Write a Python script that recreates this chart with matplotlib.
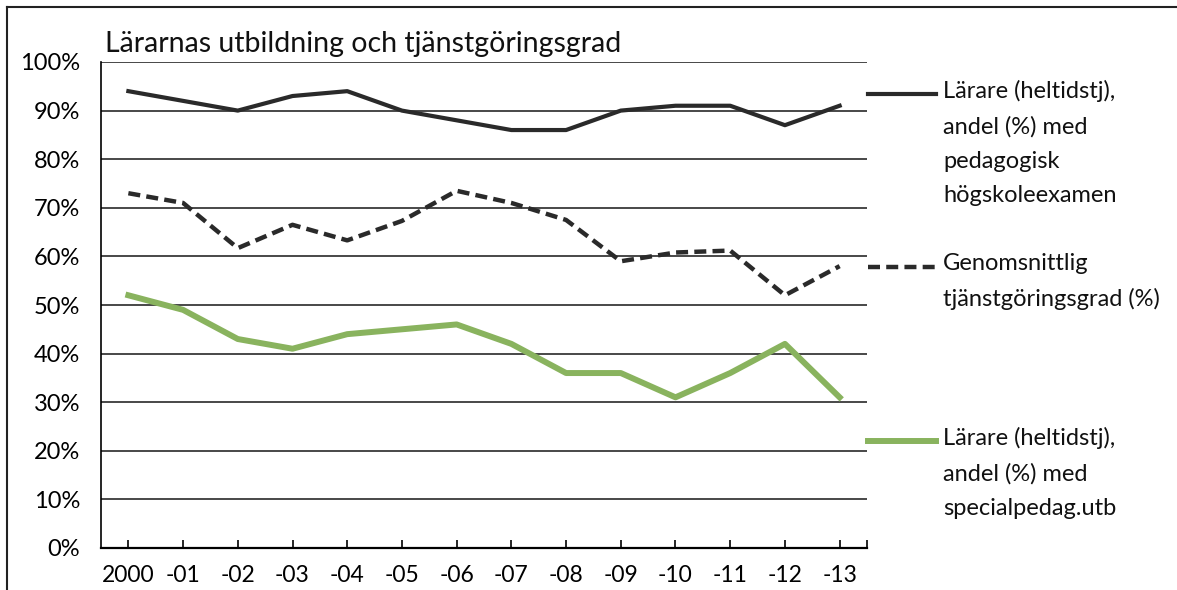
import matplotlib
matplotlib.use("Agg")
import matplotlib.pyplot as plt
from matplotlib.lines import Line2D

# data
years = ["2000", "-01", "-02", "-03", "-04", "-05", "-06", "-07", "-08", "-09", "-10", "-11", "-12", "-13"]
ped_exam = [94, 92, 90, 93, 94, 90, 88, 86, 86, 90, 91, 91, 87, 91]
tjg_grad = [73, 71, 61.7, 66.5, 63.3, 67.3, 73.5, 71, 67.5, 59, 60.8, 61.2, 52, 58]
spec_ped = [52, 49, 43, 41, 44, 45, 46, 42, 36, 36, 31, 36, 42, 31]
yticks = [0, 10, 20, 30, 40, 50, 60, 70, 80, 90, 100]

labels = ["Lärare (heltidstj),\nandel (%) med\npedagogisk\nhögskoleexamen",
          "Genomsnittlig\ntjänstgöringsgrad (%)",
          "Lärare (heltidstj),\nandel (%) med\nspecialpedag.utb"]

plt.rcParams['font.family'] = ['Lato', 'DejaVu Sans']

W, H = 1177, 590
fig = plt.figure(figsize=(W / 100, H / 100), dpi=100)
ax = fig.add_axes([101 / W, 1 - 548 / H, (867 - 101) / W, (548 - 62) / H])

x = list(range(len(years)))
dark = '#2a2a2a'
green = '#89b35e'
dash = (2.7, 1.4)

for v in yticks[1:]:
    ax.axhline(v, color='#484848', lw=1.4, zorder=1)

ax.plot(x, ped_exam, color=dark, lw=3.0, zorder=3)
ax.plot(x, tjg_grad, color=dark, lw=3.2, dashes=dash, zorder=3)
ax.plot(x, spec_ped, color=green, lw=4.3, zorder=3)

ax.set_xlim(-0.5, len(years) - 0.5)
ax.set_ylim(0, 100)
ax.set_yticks(yticks)
ax.set_yticklabels([f"{v}%" for v in yticks])
ax.set_xticks(x + [len(years) - 0.5])
ax.set_xticklabels(years + [""])
ax.tick_params(axis='x', direction='in', length=6, width=1.2, pad=12, labelsize=16.5)
ax.tick_params(axis='y', length=0, pad=15, labelsize=17)

for s in ['top', 'right']:
    ax.spines[s].set_visible(False)
ax.spines['bottom'].set_linewidth(1.6)
ax.spines['left'].set_linewidth(1.2)

fig.text(105 / W, 1 - 44 / H, "Lärarnas utbildning och tjänstgöringsgrad",
         fontsize=20.5, va='center', ha='left', color='#111111')

# legend keys and labels
key_y = [94, 267, 441]
styles = [dict(color=dark, lw=3.0),
          dict(color=dark, lw=3.2, dashes=dash),
          dict(color=green, lw=4.3)]
for ky, st, lab in zip(key_y, styles, labels):
    yy = 1 - ky / H
    fig.add_artist(Line2D([868 / W, 936 / W], [yy, yy], transform=fig.transFigure, **st))
    fig.text(943 / W, yy + 14 / H, lab, fontsize=17, va='top', ha='left',
             linespacing=1.78, color='#111111')

# outer frame of the scanned figure
fig.add_artist(Line2D([7 / W, 7 / W], [1 - 7 / H, 0], transform=fig.transFigure, color='#222222', lw=1.5))
fig.add_artist(Line2D([7 / W, 1], [1 - 7 / H, 1 - 7 / H], transform=fig.transFigure, color='#222222', lw=1.5))

fig.savefig("out.png", dpi=100)
